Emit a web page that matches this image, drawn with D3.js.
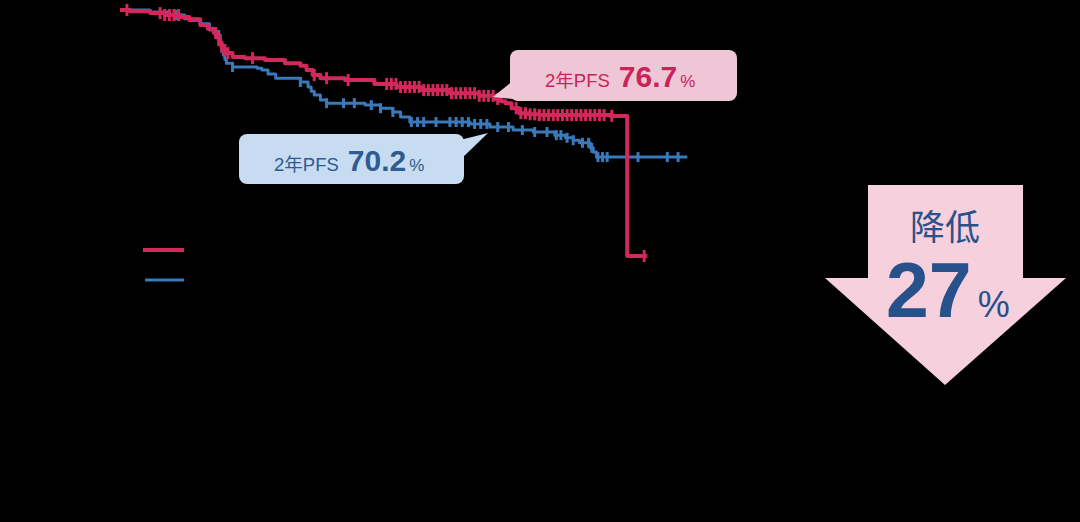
<!DOCTYPE html>
<html><head><meta charset="utf-8">
<script src="https://cdn.jsdelivr.net/npm/d3@7"></script>
<style>html,body{margin:0;padding:0;background:#000;}svg{display:block;}</style>
</head><body><svg id="c" width="1080" height="522"></svg>
<script>
// Kaplan–Meier PFS (months, % progression-free)
const redTimes  = [0,0.65,1.95,2.9,3.9,4.5,5.2,5.7,6.1,6.3,6.4,6.5,6.6,6.75,6.9,7.3,8.1,9.4,10.7,11.7,12.1,12.5,13.0,14.6,16.5,17.95,19.5,21.4,23.3,24.3,24.7,25.0,25.4,25.9,26.5,27.2,31.8,32.9,34.2];
const redSurv   = [100,99.7,99.2,98.7,98.2,97.4,96.1,95.1,94.0,93.0,92.2,91.3,90.4,89.6,88.8,87.8,87.5,87.0,86.2,85.5,84.4,83.1,82.3,81.8,80.8,80.0,79.2,78.4,77.7,76.9,76.3,75.8,74.5,73.2,72.9,72.7,72.5,36.1,36.1];
const blueTimes = [0,1.95,3.2,4.2,5.2,5.8,6.2,6.5,6.6,6.7,6.8,6.9,7.3,8.9,9.2,9.6,10.1,11.7,12.2,12.4,12.6,13.0,13.4,15.9,16.9,17.7,18.2,18.8,22.7,24.0,25.5,26.8,28.2,28.9,29.4,29.8,30.5,30.7,30.9,36.8];
const blueSurv  = [100,99.5,98.7,97.7,96.4,94.8,93.5,90.9,89.6,88.3,87.2,86.2,85.2,84.9,84.4,83.4,82.3,81.3,80.0,78.9,77.9,76.6,75.8,75.3,74.5,73.5,72.2,70.9,70.4,69.6,68.8,68.3,67.5,66.8,66.2,65.5,64.2,63.1,61.8,61.8];
const redCensor  = [0.45,2.6,2.9,3.2,3.5,3.8,6.2,6.4,6.6,6.8,7.0,8.6,12.6,13.4,14.8,17.3,17.6,17.9,18.2,18.5,18.8,19.1,19.4,19.7,20.0,20.3,20.6,20.9,21.2,21.5,21.8,22.1,22.4,22.7,23.0,23.3,23.6,23.9,24.2,24.5,25.7,26.0,26.3,26.6,26.9,27.2,27.5,27.8,28.1,28.4,28.7,29.0,29.3,29.6,29.9,30.2,30.5,30.8,31.1,31.4,31.9,34.0];
const blueCensor = [3.6,6.4,7.3,11.7,13.4,14.5,15.2,16.3,16.9,17.7,18.9,19.3,19.7,20.5,21.4,21.8,22.2,22.6,23.0,23.4,23.8,24.5,25.2,26.1,26.9,27.7,28.3,28.6,29.0,29.4,30.0,30.4,30.6,31.0,31.3,31.6,32.9,33.6,35.5,36.2];
const callouts = [
  {label:"2年PFS", value:"76.7", unit:"%", series:"red"},
  {label:"2年PFS", value:"70.2", unit:"%", series:"blue"}
];
const reductionLabel = "降低", reductionValue = "27", reductionUnit = "%";

const RED = "#d3285b", BLUE = "#3a79ba";
const svg = d3.select("#c");
svg.append("rect").attr("width",1080).attr("height",522).attr("fill","#000");

const x = d3.scaleLinear().domain([0,48]).range([120,860]);
const y = d3.scaleLinear().domain([0,100]).range([395,10]);

function stepVal(times, surv, t){
  let v = surv[0];
  for(let i=0;i<times.length;i++){ if(times[i]<=t) v=surv[i]; }
  return v;
}
const line = d3.line().x(d=>x(d[0])).y(d=>y(d[1])).curve(d3.curveStepAfter);

function drawSeries(times, surv, censor, color, sw, th){
  const pts = times.map((t,i)=>[t,surv[i]]);
  svg.append("path").datum(pts).attr("d",line).attr("fill","none")
    .attr("stroke",color).attr("stroke-width",sw).attr("stroke-linejoin","round");
  svg.append("g").selectAll("line").data(censor).join("line")
    .attr("x1",d=>x(d)).attr("x2",d=>x(d))
    .attr("y1",d=>y(stepVal(times,surv,d))-th).attr("y2",d=>y(stepVal(times,surv,d))+th)
    .attr("stroke",color).attr("stroke-width",3);
}
drawSeries(blueTimes, blueSurv, blueCensor, BLUE, 3, 5);
drawSeries(redTimes, redSurv, redCensor, RED, 4, 6);

// Callouts
function callout(bx,by,bw,bh,tri,fill,col,c,tx,ty){
  svg.append("path").attr("d",d3.line()(tri)+"Z").attr("fill",fill);
  svg.append("rect").attr("x",bx).attr("y",by).attr("width",bw).attr("height",bh)
    .attr("rx",8).attr("fill",fill);
  const t = svg.append("text").attr("x",tx).attr("y",ty).attr("fill",col)
    .attr("font-family","'Liberation Sans','Noto Sans CJK SC',Arial,sans-serif");
  t.append("tspan").attr("font-size",18.5).text(c.label);
  t.append("tspan").attr("dx",9).attr("font-size",30).attr("font-weight","bold").text(c.value);
  t.append("tspan").attr("font-size",17).attr("dx",3).text(c.unit);
}
callout(510,50,227,51,[[514,80],[532,101],[493,97]],"#efc6d5","#c8245a",callouts[0],545,87);
callout(239,134,225,50,[[460,140],[460,160],[488,133]],"#c8dcf1","#2d5b92",callouts[1],274,171);

// Legend lines
svg.append("line").attr("x1",143).attr("x2",184).attr("y1",250).attr("y2",250).attr("stroke",RED).attr("stroke-width",4);
svg.append("line").attr("x1",145).attr("x2",184).attr("y1",280).attr("y2",280).attr("stroke",BLUE).attr("stroke-width",3);

// Reduction arrow
svg.append("path").attr("d",d3.line()([[868,185],[1023,185],[1023,278],[1066,278],[945,385],[825,278],[868,278]])+"Z")
  .attr("fill","#f6d0dd");
svg.append("text").attr("x",945).attr("y",240).attr("text-anchor","middle").attr("fill","#2a5289")
  .attr("font-family","'Noto Sans CJK SC',sans-serif").attr("font-size",35).text(reductionLabel);
const rt = svg.append("text").attr("x",886).attr("y",317).attr("fill","#27518a")
  .attr("font-family","'Liberation Sans',Arial,sans-serif");
rt.append("tspan").attr("font-size",77).attr("font-weight","bold").text(reductionValue);
rt.append("tspan").attr("dx",6).attr("font-size",36).text(reductionUnit);
</script></body></html>
